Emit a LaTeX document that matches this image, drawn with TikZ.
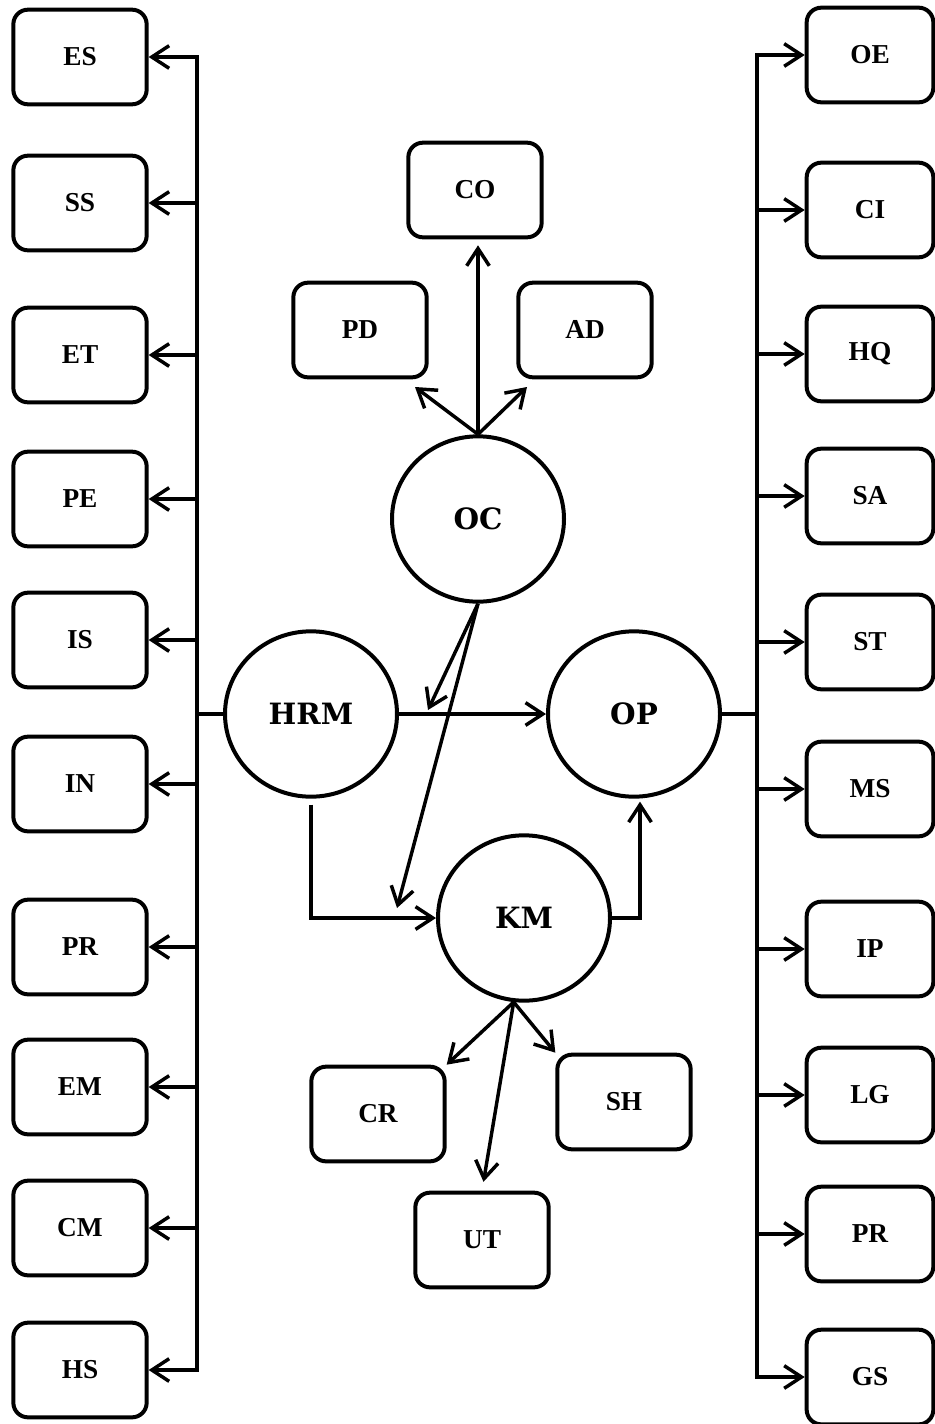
\documentclass[tikz,border=0pt]{standalone}
\usepackage{fontspec}
\setmainfont{Liberation Serif}
\newfontfamily\circfont{DejaVu Serif}
\usetikzlibrary{arrows.meta,positioning,shapes.geometric}

\begin{document}
\begin{tikzpicture}[x=0.75pt, y=-0.75pt,
    box/.style={draw, line width=3pt, rounded corners=11pt, minimum width=100pt, minimum height=71pt, inner sep=0pt, font=\bfseries\fontsize{20.5}{24}\selectfont},
    rbox/.style={box, minimum width=95pt},
    circ/.style={draw, ellipse, line width=3pt, minimum width=129pt, minimum height=124pt, inner sep=0pt, font=\circfont\bfseries\fontsize{22}{26}\selectfont},
    conn/.style={line width=2.6pt},
    arr/.style={conn, -{Straight Barb[length=13pt,width=17pt]}},
    dblarr/.style={conn, {Straight Barb[length=13pt,width=17pt]}-{Straight Barb[length=13pt,width=17pt]}}]
      \useasboundingbox (0,0) rectangle (935,1424);
      %nodes
      \node[box] (ES) at (80, 57) {ES};
      \node[box] (SS) at (80, 203) {SS};
      \node[box] (ET) at (80, 355) {ET};
      \node[box] (PE) at (80, 499) {PE};
      \node[box] (IS) at (80, 640) {IS};
      \node[box] (IN) at (80, 784) {IN};
      \node[box] (lPR) at (80, 947) {PR};
      \node[box] (EM) at (80, 1087) {EM};
      \node[box] (CM) at (80, 1228) {CM};
      \node[box] (HS) at (80, 1370) {HS};
      \node[rbox] (OE) at (870, 55) {OE};
      \node[rbox] (CI) at (870, 210) {CI};
      \node[rbox] (HQ) at (870, 354) {HQ};
      \node[rbox] (SA) at (870, 496) {SA};
      \node[rbox] (ST) at (870, 642) {ST};
      \node[rbox] (MS) at (870, 789) {MS};
      \node[rbox] (IP) at (870, 949) {IP};
      \node[rbox] (LG) at (870, 1095) {LG};
      \node[rbox] (rPR) at (870, 1234) {PR};
      \node[rbox] (GS) at (870, 1377) {GS};
      \node[box] (CO) at (475, 190) {CO};
      \node[box] (PD) at (360, 330) {PD};
      \node[box] (AD) at (585, 330) {AD};
      \node[box] (CR) at (378, 1114) {CR};
      \node[box] (SH) at (624, 1102) {SH};
      \node[box] (UT) at (482, 1240) {UT};
      \node[circ] (OC) at (478, 519) {OC};
      \node[circ] (HRM) at (311, 714) {HRM};
      \node[circ] (OP) at (634, 714) {OP};
      \node[circ] (KM) at (524, 918) {KM};
      \coordinate (lspine) at (197, 722);
      \coordinate (rspine) at (757, 713);
      \coordinate (pdend) at (415, 387);
      \coordinate (adend) at (527, 387);
      \coordinate (hrmop) at (428, 710);
      \coordinate (kmin) at (397, 908);
      %edges
      \draw[arr, shorten >=4.5pt] (OC.north) -- (OC.north |- CO.south);
      \draw[arr] (OC.north) -- (pdend);
      \draw[arr] (OC.north) -- (adend);
      \draw[arr] (HRM.east) -- (OP.west);
      \draw[arr] (OC.south) -- (hrmop);
      \draw[arr] (OC.south) -- (kmin);
      \draw[arr] ([yshift=-4.5pt]HRM.south) |- (KM.west);
      \draw[arr] (KM.east) -| ([xshift=4.5pt,yshift=-2.25pt]OP.south);
      \draw[arr] (KM.263) -- (CR.north east);
      \draw[arr] (KM.263) -- (SH.north west);
      \draw[arr, shorten >=6.75pt] (KM.263) -- (UT.north);
      \draw[conn] (HRM.west) -- (HRM.west -| lspine);
      \draw[conn] (OP.east) -- (OP.east -| rspine);
      \draw[dblarr] (ES.east) -| (lspine |- HS.east) -- (HS.east);
      \draw[dblarr] (OE.west) -| (rspine |- GS.west) -- (GS.west);
      \foreach \b in {SS,ET,PE,IS,IN,lPR,EM,CM}
        \draw[arr] (lspine |- \b.east) -- (\b.east);
      \foreach \b in {CI,HQ,SA,ST,MS,IP,LG,rPR}
        \draw[arr] (rspine |- \b.west) -- (\b.west);
\end{tikzpicture}
\end{document}
